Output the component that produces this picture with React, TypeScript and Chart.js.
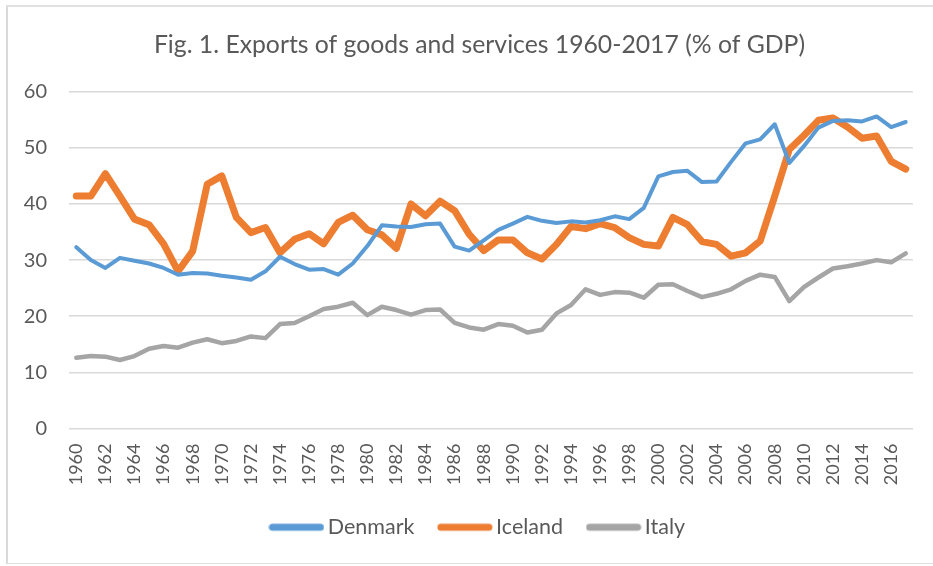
import React, { useEffect, useRef } from "react";
import { Chart, registerables } from "chart.js";

Chart.register(...registerables);

const years = [
  "1960", "1961", "1962", "1963", "1964", "1965", "1966", "1967", "1968", "1969",
  "1970", "1971", "1972", "1973", "1974", "1975", "1976", "1977", "1978", "1979",
  "1980", "1981", "1982", "1983", "1984", "1985", "1986", "1987", "1988", "1989",
  "1990", "1991", "1992", "1993", "1994", "1995", "1996", "1997", "1998", "1999",
  "2000", "2001", "2002", "2003", "2004", "2005", "2006", "2007", "2008", "2009",
  "2010", "2011", "2012", "2013", "2014", "2015", "2016", "2017",
];

const denmark = [
  32.3, 30.0, 28.6, 30.4, 29.9, 29.4, 28.6, 27.4, 27.7, 27.6,
  27.2, 26.9, 26.5, 28.0, 30.6, 29.3, 28.3, 28.4, 27.4, 29.4,
  32.5, 36.2, 36.0, 35.9, 36.4, 36.5, 32.4, 31.7, 33.5, 35.4,
  36.5, 37.7, 37.0, 36.6, 36.9, 36.7, 37.1, 37.8, 37.3, 39.3,
  44.9, 45.7, 45.9, 43.9, 44.0, 47.5, 50.8, 51.5, 54.2, 47.3,
  50.3, 53.6, 54.8, 54.9, 54.7, 55.6, 53.7, 54.6,
];

const iceland = [
  41.4, 41.4, 45.4, 41.4, 37.3, 36.3, 32.9, 28.0, 31.6, 43.5,
  45.0, 37.6, 34.9, 35.8, 31.3, 33.7, 34.7, 32.9, 36.7, 38.0,
  35.4, 34.5, 32.1, 40.0, 37.9, 40.5, 38.8, 34.6, 31.7, 33.6,
  33.6, 31.3, 30.2, 32.8, 36.0, 35.6, 36.5, 35.8, 34.0, 32.8,
  32.5, 37.6, 36.3, 33.3, 32.8, 30.7, 31.3, 33.4, 41.4, 49.7,
  52.2, 54.9, 55.3, 53.7, 51.7, 52.1, 47.6, 46.2,
];

const italy = [
  12.6, 12.9, 12.8, 12.2, 12.9, 14.2, 14.7, 14.4, 15.3, 15.9,
  15.2, 15.6, 16.4, 16.1, 18.6, 18.8, 20.0, 21.3, 21.7, 22.4,
  20.2, 21.7, 21.1, 20.3, 21.1, 21.2, 18.8, 18.0, 17.6, 18.6,
  18.3, 17.1, 17.6, 20.5, 22.0, 24.8, 23.8, 24.3, 24.2, 23.3,
  25.6, 25.7, 24.5, 23.4, 24.0, 24.8, 26.3, 27.4, 27.0, 22.7,
  25.2, 26.9, 28.5, 28.9, 29.4, 30.0, 29.6, 31.2,
];

const seriesNames = ["Denmark", "Iceland", "Italy"];
const seriesColors = ["#5B9BD5", "#ED7D31", "#A5A5A5"];
const seriesWidths = [4, 7, 4.5];

const titleText = "Fig. 1. Exports of goods and services 1960-2017 (% of GDP)";
const textColor = "#595959";
const gridColor = "#D9D9D9";
const fontFamily = "Lato, 'Liberation Sans', sans-serif";

function makeSwatch(color: string, thickness: number): HTMLCanvasElement {
  const c = document.createElement("canvas");
  c.width = 56;
  c.height = 12;
  const ctx = c.getContext("2d");
  if (ctx) {
    ctx.strokeStyle = color;
    ctx.lineWidth = thickness;
    ctx.lineCap = "round";
    ctx.beginPath();
    ctx.moveTo(4, 6);
    ctx.lineTo(52, 6);
    ctx.stroke();
  }
  return c;
}

const shiftBoxes = {
  id: "shiftBoxes",
  afterLayout(chart: any) {
    const lg = chart.legend;
    if (lg) {
      lg.left += 12;
      lg.right += 12;
    }
    const tb = chart.titleBlock;
    if (tb) {
      tb.left += 11;
      tb.right += 11;
    }
  },
};

export default function App() {
  const canvasRef = useRef<HTMLCanvasElement | null>(null);

  useEffect(() => {
    document.body.style.margin = "0";
    const canvas = canvasRef.current;
    if (!canvas) return;
    const allData = [denmark, iceland, italy];
    const chart = new Chart(canvas, {
      type: "line",
      data: {
        labels: years,
        datasets: allData.map((d, i) => ({
          label: seriesNames[i],
          data: d,
          borderColor: seriesColors[i],
          backgroundColor: seriesColors[i],
          borderWidth: seriesWidths[i],
          pointRadius: 0,
          pointHoverRadius: 0,
          pointStyle: makeSwatch(seriesColors[i], 7) as any,
          tension: 0,
          borderJoinStyle: "round" as const,
          borderCapStyle: "round" as const,
          fill: false,
        })),
      },
      plugins: [shiftBoxes],
      options: {
        responsive: false,
        animation: false,
        events: [],
        layout: {
          padding: { left: 24, right: 20, top: 0, bottom: 18 },
        },
        plugins: {
          title: {
            display: true,
            text: titleText,
            color: textColor,
            font: { family: fontFamily, size: 24.75, weight: "normal" },
            padding: { top: 30, bottom: 32 },
          },
          legend: {
            display: true,
            position: "bottom",
            labels: {
              usePointStyle: true,
              pointStyleWidth: 41,
              color: textColor,
              font: { family: fontFamily, size: 21.5 },
              padding: 30,
            },
          },
          tooltip: { enabled: false },
        },
        scales: {
          x: {
            type: "category",
            offset: true,
            grid: { display: false, drawTicks: false },
            border: { display: false },
            afterFit: (scale: any) => {
              scale.height = 58;
              scale.paddingLeft = 0;
              scale.paddingRight = 0;
            },
            ticks: {
              autoSkip: false,
              maxRotation: 90,
              minRotation: 90,
              padding: 15,
              color: textColor,
              font: { family: fontFamily, size: 18 },
              callback: (_v: any, idx: number) => (idx % 2 === 0 ? years[idx] : ""),
            },
          },
          y: {
            min: 0,
            max: 60,
            grid: { color: gridColor, lineWidth: 1.5, drawTicks: false },
            border: { display: false },
            afterFit: (scale: any) => {
              scale.width = 45;
              scale.paddingTop = 0;
              scale.paddingBottom = 0;
            },
            ticks: {
              stepSize: 10,
              padding: 22,
              color: textColor,
              font: { family: fontFamily, size: 20 },
            },
          },
        },
      },
    });
    return () => chart.destroy();
  }, []);

  return (
    <div style={{ position: "absolute", left: 0, top: 0, width: 933, height: 566, background: "#fff", overflow: "hidden" }}>
      <canvas ref={canvasRef} width={933} height={566} style={{ position: "absolute", left: 0, top: 0, width: 933, height: 566 }} />
      <div
        style={{
          position: "absolute",
          left: 6,
          top: 5,
          width: 927,
          height: 559,
          borderLeft: "2px solid #DADADA",
          borderTop: "2px solid #E0E0E0",
          borderBottom: "1px solid #E0E0E0",
          boxSizing: "border-box",
          pointerEvents: "none",
        }}
      />
    </div>
  );
}
